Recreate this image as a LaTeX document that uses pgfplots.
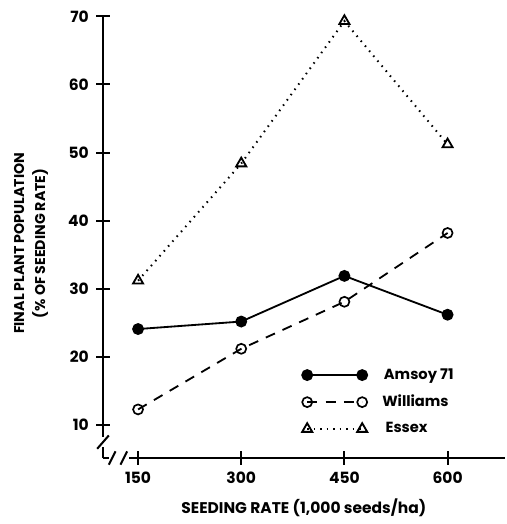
\documentclass[border=0pt]{standalone}
\usepackage{fontspec}
\setmainfont{Poppins}
\usepackage{pgfplots}
\pgfplotsset{compat=1.18}
\begin{document}
\begin{tikzpicture}
\begin{axis}[
  scale only axis,
  width=241pt, height=265pt,
  xmin=99, xmax=683, ymin=5.17, ymax=70,
  axis lines=left,
  axis line style={line width=1.6pt, -},
  xtick={150,300,450,600},
  ytick={10,20,30,40,50,60,70},
  tick align=center,
  major tick length=8pt,
  tick style={line width=1.2pt, black},
  /pgf/number format/assume math mode=true,
  /pgf/number format/1000 sep={},
  ticklabel style={font=\fontsize{9.3}{10}\selectfont\bfseries},
  xticklabel style={yshift=-1pt},
  yticklabel style={xshift=-1pt},
  xlabel={SEEDING RATE (1,000 seeds/ha)},
  xlabel style={font=\fontsize{9.3}{10}\selectfont\bfseries, at={(axis description cs:0.5,0)}, anchor=north, yshift=-21pt},
  ylabel={FINAL PLANT POPULATION\\(\% OF SEEDING RATE)},
  ylabel style={font=\fontsize{8.5}{12.5}\selectfont\bfseries, align=center, at={(axis description cs:-0.179,0.486)}, anchor=center},
  clip=false,
  legend style={draw=none, fill=none, at={(axis description cs:0.495,0.211)}, anchor=north west,
    font=\fontsize{8.8}{9}\selectfont\bfseries, row sep=4pt, inner sep=0pt},
  legend cell align=left,
  legend image code/.code={\draw[#1, mark repeat=2, mark phase=1] plot coordinates {(0pt,0pt) (16.5pt,0pt) (33pt,0pt)};},
]
\addplot[black, line width=1.1pt, mark=*, mark size=3pt, mark options={solid, fill=black}]
  coordinates {(150,24.1) (300,25.2) (450,31.9) (600,26.2)};
\addlegendentry{\hspace*{8pt}Amsoy 71}
\addplot[black, line width=1.1pt, dash pattern=on 6pt off 5pt, mark=o, mark size=3pt, mark options={solid, fill=white, line width=1pt}]
  coordinates {(150,12.3) (300,21.2) (450,28.1) (600,38.2)};
\addlegendentry{\hspace*{7pt}Williams}
\addplot[black, line width=1.2pt, dash pattern=on 0.9pt off 3pt, mark=triangle, mark size=3.5pt, mark options={solid, fill=white, line width=1.1pt}]
  coordinates {(150,31.2) (300,48.4) (450,69.3) (600,51.2)};
\addlegendentry{\hspace*{9pt}Essex}
\coordinate (ybreak) at (axis cs:99,7.5);
\coordinate (xbreak) at (axis cs:122,5.17);
\end{axis}
\fill[white] ([xshift=-4pt,yshift=-3pt]ybreak) rectangle ([xshift=4pt,yshift=3pt]ybreak);
\draw[line width=1.2pt] ([xshift=-3.5pt,yshift=-4pt]ybreak) -- ([xshift=3.5pt,yshift=4pt]ybreak);
\fill[white] ([xshift=-6pt,yshift=-2pt]xbreak) rectangle ([xshift=6pt,yshift=2pt]xbreak);
\draw[line width=1.2pt] ([xshift=-6pt,yshift=-4pt]xbreak) -- ([xshift=-2pt,yshift=4pt]xbreak);
\draw[line width=1.2pt] ([xshift=1pt,yshift=-4pt]xbreak) -- ([xshift=5pt,yshift=4pt]xbreak);
\pgfresetboundingbox
\useasboundingbox (-61.8pt,-39.6pt) rectangle (242.4pt,274.8pt);
\end{tikzpicture}
\end{document}
